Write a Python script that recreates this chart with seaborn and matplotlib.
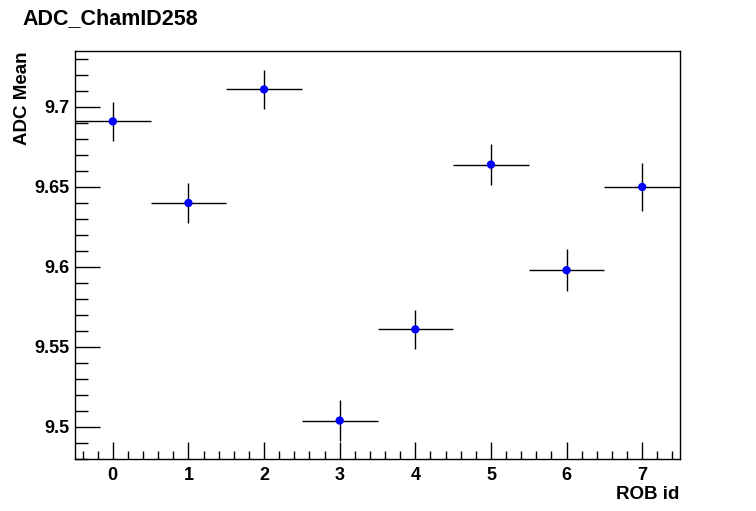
import matplotlib
matplotlib.use('Agg')
import matplotlib.pyplot as plt
import pandas as pd
import seaborn as sns
from matplotlib.ticker import MultipleLocator

# Data
rob_id = [0, 1, 2, 3, 4, 5, 6, 7]
adc_mean = [9.691, 9.640, 9.711, 9.504, 9.561, 9.664, 9.598, 9.650]
adc_err = [0.012, 0.0125, 0.012, 0.013, 0.012, 0.0128, 0.013, 0.015]
bin_half_width = 0.5

df = pd.DataFrame({'rob': rob_id, 'mean': adc_mean, 'err': adc_err})

sns.set_style('white')
plt.rcParams['font.family'] = ['Liberation Sans', 'DejaVu Sans']
plt.rcParams['font.weight'] = 'bold'
plt.rcParams['text.color'] = 'black'
plt.rcParams['xtick.color'] = 'black'
plt.rcParams['ytick.color'] = 'black'
plt.rcParams['xtick.labelcolor'] = 'black'
plt.rcParams['ytick.labelcolor'] = 'black'

fig = plt.figure(figsize=(7.56, 5.11), dpi=100)
ax = fig.add_axes([0.0992, 0.1018, 0.8003, 0.7984])

# error bars (x = bin width, y = error)
ax.errorbar(df['rob'], df['mean'], xerr=bin_half_width, yerr=df['err'],
            fmt='none', ecolor='black', elinewidth=1.0, capsize=0, zorder=2)
sns.scatterplot(data=df, x='rob', y='mean', ax=ax, color='#0000ff',
                s=36, edgecolor='none', zorder=3)

ax.set_xlim(-0.5, 7.5)
ax.set_ylim(9.480, 9.735)

ax.xaxis.set_major_locator(MultipleLocator(1))
ax.xaxis.set_minor_locator(MultipleLocator(0.2))
ax.yaxis.set_major_locator(MultipleLocator(0.05))
ax.yaxis.set_minor_locator(MultipleLocator(0.01))
ax.set_yticks([9.5, 9.55, 9.6, 9.65, 9.7])
ax.set_yticklabels(['9.5', '9.55', '9.6', '9.65', '9.7'])

ax.tick_params(axis='x', which='major', direction='in', length=12, width=1,
               labelsize=13, pad=6, bottom=True, top=False)
ax.tick_params(axis='x', which='minor', direction='in', length=6, width=1,
               bottom=True, top=False)
ax.tick_params(axis='y', which='major', direction='in', length=18, width=1,
               labelsize=13, pad=4, left=True, right=False)
ax.tick_params(axis='y', which='minor', direction='in', length=9, width=1,
               left=True, right=False)

for s in ax.spines.values():
    s.set_color('black')
    s.set_linewidth(1.0)

ax.set_xlabel('')
ax.set_ylabel('')
fig.text(0.030, 0.953, 'ADC_ChamID258', fontsize=15.5, fontweight='bold',
         ha='left', va='baseline', color='black')
fig.text(0.899, 0.024, 'ROB id', fontsize=13.5, fontweight='bold',
         ha='right', va='baseline', color='black')
fig.text(0.030, 0.9, 'ADC Mean', fontsize=13.5, fontweight='bold',
         ha='center', va='top', rotation=90, color='black')

fig.savefig('out.png', dpi=100)
